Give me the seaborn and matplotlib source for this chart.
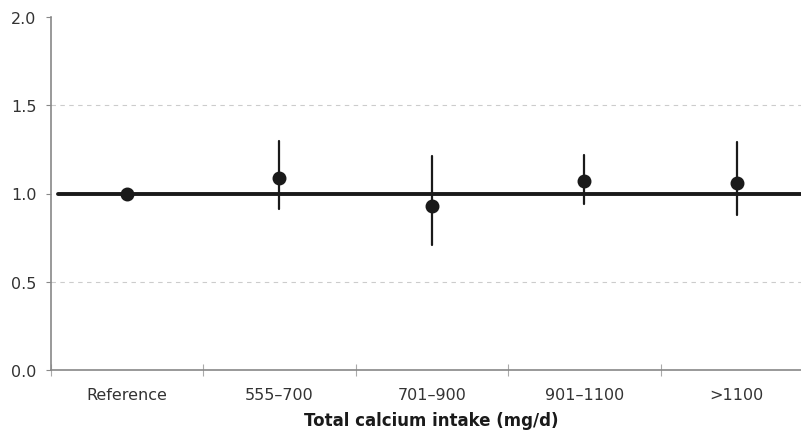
import pandas as pd
import seaborn as sns
import matplotlib.pyplot as plt

# values
categories = ['Reference', '555\u2013700', '701\u2013900', '901\u20131100', '>1100']
estimate = [1.00, 1.09, 0.93, 1.07, 1.06]
lower = [1.00, 0.91, 0.71, 0.94, 0.88]
upper = [1.00, 1.30, 1.21, 1.22, 1.29]
y_ticks = [0.0, 0.5, 1.0, 1.5, 2.0]

# long table: median of (lo, est, hi) is the estimate, full range is the CI
rows = []
for c, lo, e, hi in zip(categories, lower, estimate, upper):
    for v in (lo, e, hi):
        rows.append({'group': c, 'value': v})
df = pd.DataFrame(rows)

sns.set_style('white')
plt.rcParams['font.family'] = ['DejaVu Sans']

fig = plt.figure(figsize=(8.01, 4.31), dpi=100)
ax = fig.add_axes([50.5 / 801, 60 / 431, 762.5 / 801, 353 / 431])

ax.axhline(1.0, xmin=0.01, xmax=1, color='#1a1a1a', lw=2.8, zorder=1)

sns.pointplot(data=df, x='group', y='value', order=categories,
              estimator='median', errorbar=('pi', 100),
              linestyle='none', color='#1a1a1a', markersize=8,
              err_kws={'linewidth': 1.6}, ax=ax, zorder=3)

ax.set_ylim(0, 2.0)
ax.set_xlim(-0.5, 4.5)
ax.set_yticks(y_ticks)
ax.set_yticklabels([f'{t:.1f}' for t in y_ticks], color='#333333', fontsize=11.5)
for t in (0.5, 1.5):
    ax.axhline(t, color='#cccccc', lw=0.8, ls=(0, (4, 4)), zorder=0)

ax.set_xticks(range(len(categories)))
ax.set_xticklabels(categories, color='#333333', fontsize=11.5)
ax.tick_params(axis='x', which='major', bottom=True, length=0, pad=12)
# boundary ticks between categories
ax.set_xticks([i + 0.5 for i in range(-1, len(categories))], minor=True)
ax.tick_params(axis='x', which='minor', bottom=True, length=8, width=0.8,
               color='#aaaaaa', direction='inout')
ax.tick_params(axis='y', left=True, length=3.5, width=0.8, color='#888888', pad=6.5)

ax.set_xlabel('Total calcium intake (mg/d)', fontsize=12, fontweight='bold',
              color='#1a1a1a', labelpad=7)
ax.set_ylabel('')

for s in ('top', 'right'):
    ax.spines[s].set_visible(False)
ax.spines['left'].set_color('#888888')
ax.spines['bottom'].set_color('#888888')
ax.spines['left'].set_linewidth(1.2)
ax.spines['bottom'].set_linewidth(1.2)

fig.savefig('out.png', dpi=100)
